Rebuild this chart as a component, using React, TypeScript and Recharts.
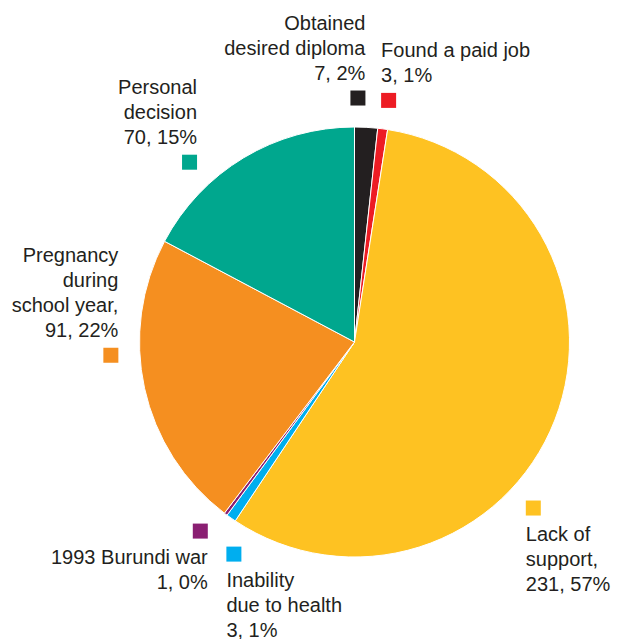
import React from "react";
import { PieChart, Pie, Cell } from "recharts";

// reasons for leaving school, clockwise from the top
const names = [
  "Obtained desired diploma",
  "Found a paid job",
  "Lack of support",
  "Inability due to health",
  "1993 Burundi war",
  "Pregnancy during school year",
  "Personal decision",
];
const counts = [7, 3, 231, 3, 1, 91, 70];
const percents = [2, 1, 57, 1, 0, 22, 15];
const labelNameLines = [
  ["Obtained", "desired diploma"],
  ["Found a paid job"],
  ["Lack of", "support,"],
  ["Inability", "due to health"],
  ["1993 Burundi war"],
  ["Pregnancy", "during", "school year,"],
  ["Personal", "decision"],
];
const colors = ["#231F20", "#ED1C24", "#FEC222", "#00AEEF", "#8A1F72", "#F58F20", "#00A78E"];

// label placement: angle nudge from slice middle, text above/below square, alignment
const labelStyle = [
  { shift: 2.3, below: false, anchor: "end" },
  { shift: -0.5, below: false, anchor: "start" },
  { shift: -21.6, below: true, anchor: "start" },
  { shift: 5.4, below: true, anchor: "start" },
  { shift: -2.4, below: true, anchor: "end" },
  { shift: -9.3, below: false, anchor: "end" },
  { shift: 11.5, below: false, anchor: "end" },
];

const data = names.map((name, i) => ({ name, value: counts[i] }));

const RAD = Math.PI / 180;
const SQ = 15;
const LINE = 25;

function renderLabel(props: any) {
  const { cx, cy, midAngle, outerRadius, index } = props;
  const st = labelStyle[index];
  const angle = midAngle + st.shift;
  const r = outerRadius + 29;
  const sx = cx + r * Math.cos(-angle * RAD);
  const sy = cy + r * Math.sin(-angle * RAD);
  const lines = [...labelNameLines[index], `${counts[index]}, ${percents[index]}%`];
  const tx = st.anchor === "end" ? sx + SQ / 2 : sx - SQ / 2;
  const firstBaseline = st.below ? sy + 33 : sy - 18 - (lines.length - 1) * LINE;
  return (
    <g key={`lbl-${index}`}>
      <rect x={sx - SQ / 2} y={sy - SQ / 2} width={SQ} height={SQ} fill={colors[index]} />
      <text
        x={tx}
        y={firstBaseline}
        textAnchor={st.anchor}
        fill="#231F20"
        fontSize={20}
        fontFamily="'Liberation Sans', Arial, sans-serif"
      >
        {lines.map((l, k) => (
          <tspan key={k} x={tx} dy={k === 0 ? 0 : LINE}>
            {l}
          </tspan>
        ))}
      </text>
    </g>
  );
}

export default function App() {
  return (
    <div style={{ position: "absolute", left: 0, top: 0, width: 624, height: 639, background: "#fff" }}>
      <PieChart width={624} height={639} margin={{ top: 0, right: 0, bottom: 0, left: 0 }}>
        <Pie
          data={data}
          dataKey="value"
          nameKey="name"
          cx={354.5}
          cy={342}
          outerRadius={215}
          startAngle={90}
          endAngle={-270}
          stroke="#fff"
          strokeWidth={1}
          label={renderLabel}
          labelLine={false}
          isAnimationActive={false}
        >
          {data.map((d, i) => (
            <Cell key={d.name} fill={colors[i]} />
          ))}
        </Pie>
      </PieChart>
    </div>
  );
}
